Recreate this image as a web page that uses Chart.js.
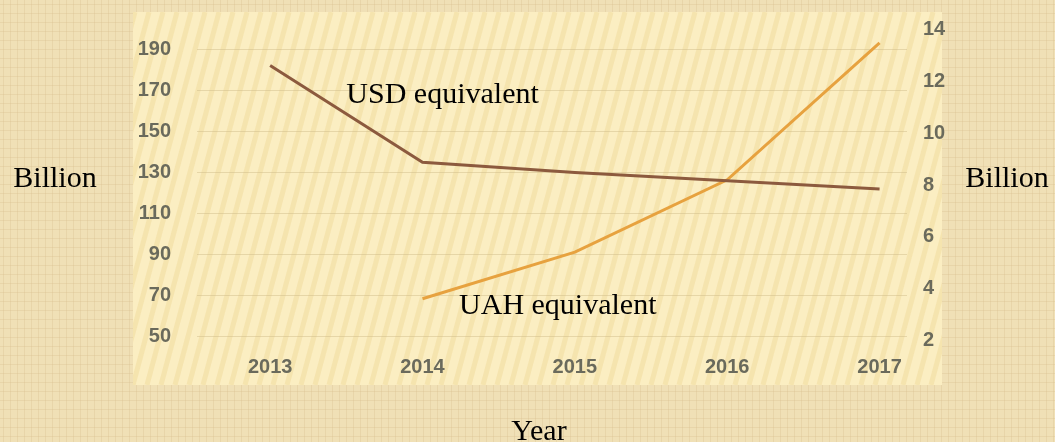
<!DOCTYPE html>
<html lang="en">
<head>
  <meta charset="UTF-8">
  <title>USD / UAH equivalent</title>
  <script src="https://cdn.jsdelivr.net/npm/chart.js@4.4.1/dist/chart.umd.min.js"></script>
  <style>
    html, body {
      margin: 0;
      padding: 0;
      background: #f0e0b6;
    }
    .wrap {
      width: 1055px;
      height: 442px;
    }
  </style>
</head>
<body>
  <div class="wrap">
    <canvas id="chart" width="1055" height="442"></canvas>
  </div>
  <script>
    // values
    const years = [2013, 2014, 2015, 2016, 2017];
    const usdValues = [182, 135, 130, 126, 122];
    const uahYears = [2014, 2015, 2016, 2017];
    const uahValues = [3.6, 5.4, 8.2, 13.5];
    const leftTicks = [50, 70, 90, 110, 130, 150, 170, 190];
    const rightTicks = [2, 4, 6, 8, 10, 12, 14];

    const tickFont = { family: 'Liberation Sans, Arial', size: 20, weight: 'bold' };
    const tickColor = '#6a6a5c';
    const serif = '30px "Liberation Serif", "Times New Roman", serif';

    // textured page + striped panel behind the plot
    const backdrop = {
      id: 'backdrop',
      beforeDraw(chart) {
        const c = chart.ctx;
        const a = chart.chartArea;
        c.save();
        c.fillStyle = '#f0e0b6';
        c.fillRect(0, 0, chart.width, chart.height);
        c.strokeStyle = 'rgba(215,190,140,0.3)';
        c.lineWidth = 1;
        for (let x = 3; x < chart.width; x += 7) {
          c.beginPath(); c.moveTo(x + 0.5, 0); c.lineTo(x + 0.5, chart.height); c.stroke();
        }
        for (let y = 4; y < chart.height; y += 9) {
          c.beginPath(); c.moveTo(0, y + 0.5); c.lineTo(chart.width, y + 0.5); c.stroke();
        }

        const px = a.left - 64, py = a.top - 13;
        const pw = a.right + 35 - px, ph = a.bottom + 40 - py;
        c.fillStyle = '#fbeec2';
        c.fillRect(px, py, pw, ph);
        c.beginPath();
        c.rect(px, py, pw, ph);
        c.clip();
        c.strokeStyle = 'rgba(238,212,145,0.4)';
        c.lineWidth = 5;
        for (let x = px - 140; x < px + pw + 20; x += 14) {
          c.beginPath();
          c.moveTo(x, py + ph);
          c.lineTo(x + 100, py);
          c.stroke();
        }
        c.restore();
      }
    };

    // serif captions
    const captions = {
      id: 'captions',
      afterDatasetsDraw(chart) {
        const c = chart.ctx;
        const a = chart.chartArea;
        const sx = chart.scales.x, yl = chart.scales.yL, yr = chart.scales.yR;
        c.save();
        c.font = serif;
        c.fillStyle = '#000';
        c.textBaseline = 'alphabetic';
        c.textAlign = 'left';
        c.fillText('USD equivalent', sx.getPixelForValue(2013.5), yl.getPixelForValue(164));
        c.fillText('UAH equivalent', sx.getPixelForValue(2014.24), yr.getPixelForValue(3));
        c.textAlign = 'center';
        c.fillText('Billion', 55, 187);
        c.fillText('Billion', chart.width - 48, 187);
        c.fillText('Year', (a.left + a.right) / 2 - 13, chart.height - 2);
        c.restore();
      }
    };

    const noOverflow = s => { s.paddingTop = 0; s.paddingBottom = 0; };

    new Chart(document.getElementById('chart'), {
      type: 'line',
      data: {
        datasets: [
          {
            label: 'USD equivalent',
            data: years.map((y, i) => ({ x: y, y: usdValues[i] })),
            borderColor: '#8c5a3e',
            borderWidth: 3,
            pointRadius: 0,
            tension: 0,
            yAxisID: 'yL'
          },
          {
            label: 'UAH equivalent',
            data: uahYears.map((y, i) => ({ x: y, y: uahValues[i] })),
            borderColor: '#e7a23f',
            borderWidth: 3,
            pointRadius: 0,
            tension: 0,
            yAxisID: 'yR'
          }
        ]
      },
      options: {
        responsive: false,
        animation: false,
        layout: { padding: { top: 25, left: 0, right: 0, bottom: 0 } },
        plugins: {
          legend: { display: false },
          tooltip: { enabled: false }
        },
        scales: {
          x: {
            type: 'linear',
            min: 2012.52,
            max: 2017.18,
            grid: { display: false, drawTicks: false },
            border: { display: false },
            afterBuildTicks: s => { s.ticks = years.map(v => ({ value: v })); },
            afterFit: s => { s.height = 97; s.paddingLeft = 0; s.paddingRight = 0; },
            ticks: {
              padding: 10,
              color: tickColor,
              font: tickFont,
              callback: v => String(v)
            }
          },
          yL: {
            type: 'linear',
            position: 'left',
            min: 46.1,
            max: 201.7,
            border: { display: false },
            grid: { color: 'rgba(205,185,135,0.45)', drawTicks: false },
            afterBuildTicks: s => { s.ticks = leftTicks.map(v => ({ value: v })); },
            afterFit: s => { s.width = 197; noOverflow(s); },
            ticks: { padding: 26, color: tickColor, font: tickFont }
          },
          yR: {
            type: 'linear',
            position: 'right',
            min: 1.81,
            max: 14.19,
            border: { display: false },
            grid: { display: false, drawOnChartArea: false },
            afterBuildTicks: s => { s.ticks = rightTicks.map(v => ({ value: v })); },
            afterFit: s => { s.width = 148; noOverflow(s); },
            ticks: { padding: 8, color: tickColor, font: tickFont }
          }
        }
      },
      plugins: [backdrop, captions]
    });
  </script>
</body>
</html>
